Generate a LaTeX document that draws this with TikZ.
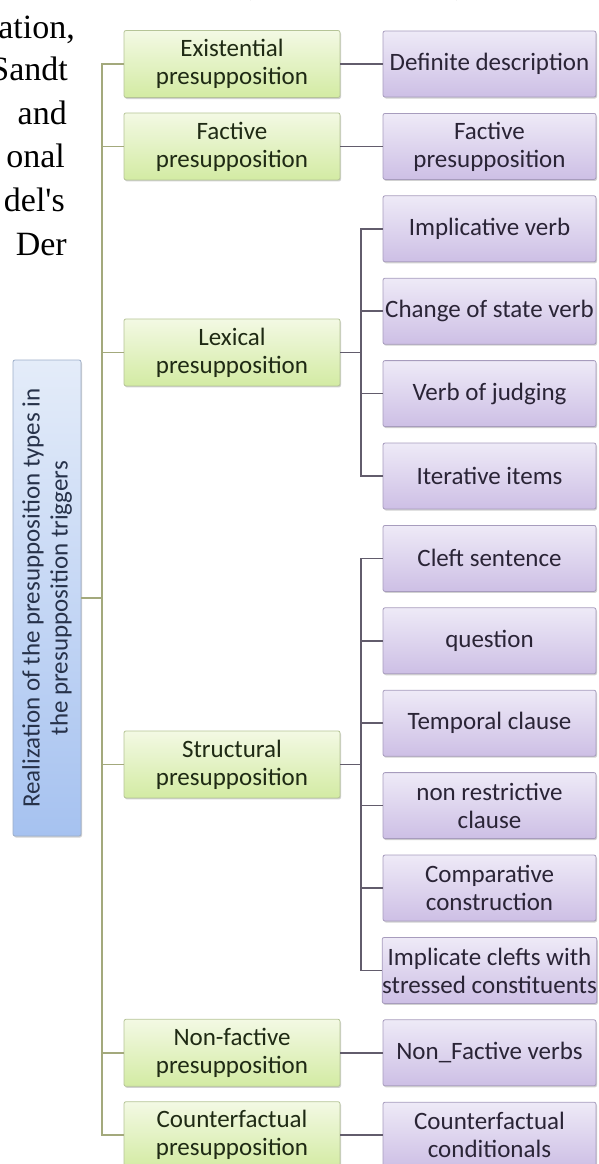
\documentclass[tikz,border=0pt]{standalone}
\usepackage{fontspec}
\setmainfont{Carlito}
\newfontfamily\serifpart{Liberation Serif}
\usetikzlibrary{shadows}
\definecolor{gtop}{HTML}{F3F9E4}
\definecolor{gbot}{HTML}{D3EBA3}
\definecolor{gline}{HTML}{B5C497}
\definecolor{ptop}{HTML}{EEEAF7}
\definecolor{pbot}{HTML}{CDBFE5}
\definecolor{pline}{HTML}{A79CBD}
\definecolor{btop}{HTML}{E4ECF9}
\definecolor{bbot}{HTML}{A6C2F0}
\definecolor{bline}{HTML}{9CADC8}
\definecolor{trunkc}{HTML}{A3A97C}
\definecolor{branchc}{HTML}{625C6C}
\definecolor{gtext}{HTML}{1F2A14}
\definecolor{ptext}{HTML}{2A2436}
\definecolor{btext}{HTML}{27324A}
\begin{document}
\begin{tikzpicture}[x=1pt,y=-1pt,
 every node/.style={font=\fontsize{25}{28}\selectfont, align=center, inner sep=0pt},
 boxbase/.style={rectangle, rounded corners=2pt, line width=0.8pt,
   drop shadow={shadow xshift=1pt,shadow yshift=-1.5pt,opacity=0.3,fill=black!60}},
 gbox/.style={boxbase, draw=gline, top color=gtop, bottom color=gbot, text=gtext,
   minimum width=216pt, minimum height=67pt},
 pbox/.style={boxbase, draw=pline, top color=ptop, bottom color=pbot, text=ptext,
   minimum width=213pt, minimum height=66pt},
 rbox/.style={boxbase, draw=bline, top color=btop, bottom color=bbot,
   minimum width=68pt, minimum height=476pt},
 trunkline/.style={draw=trunkc, line width=1.6pt},
 branchline/.style={draw=branchc, line width=1.6pt},
 serift/.style={font=\serifpart\fontsize{34}{40}\selectfont, text=black, anchor=base east}
]
\useasboundingbox (0,0) rectangle (598,1164);

% cropped page text
\node[serift] (t1) at (75,38) {ation,};
\node[serift] (t2) at (68,81) {Sandt};
\node[serift] (t3) at (67,124) {and};
\node[serift] (t4) at (65,167) {onal};
\node[serift] (t5) at (65,211) {del's};
\node[serift] (t6) at (67,255) {Der};
\node[serift, anchor=base] (lp) at (246,-6) {(};
\node[serift, anchor=base] (rp) at (461,-6) {)};

% root
\node[rbox] (root) at (47,598) {};
\node[rotate=90, text=btext] (roottext) at (root.center)
  {Realization of the presupposition types in\\the presupposition triggers};

% level 1
\node[gbox] (g0) at (232,64) {Existential\\presupposition};
\node[gbox] (g1) at (232,146.4) {Factive\\presupposition};
\node[gbox] (g2) at (232,352.4) {Lexical\\presupposition};
\node[gbox] (g3) at (232,764.4) {Structural\\presupposition};
\node[gbox] (g4) at (232,1052.8) {Non-factive\\presupposition};
\node[gbox] (g5) at (232,1135.2) {Counterfactual\\presupposition};

% level 2
\node[pbox] (p0) at (489.5,64) {Definite description};
\node[pbox] (p1) at (489.5,146.4) {Factive\\presupposition};
\node[pbox] (p2) at (489.5,228.8) {Implicative verb};
\node[pbox] (p3) at (489.5,311.2) {Change of state verb};
\node[pbox] (p4) at (489.5,393.6) {Verb of judging};
\node[pbox] (p5) at (489.5,476) {Iterative items};
\node[pbox] (p6) at (489.5,558.4) {Cleft sentence};
\node[pbox] (p7) at (489.5,640.8) {question};
\node[pbox] (p8) at (489.5,723.2) {Temporal clause};
\node[pbox] (p9) at (489.5,805.6) {non restrictive\\clause};
\node[pbox] (p10) at (489.5,888) {Comparative\\construction};
\node[pbox] (p11) at (489.5,970.4) {Implicate clefts with\\stressed constituents};
\node[pbox] (p12) at (489.5,1052.8) {Non\_Factive verbs};
\node[pbox] (p13) at (489.5,1135.2) {Counterfactual\\conditionals};

% connectors
\coordinate (trunk) at (102,598);
\draw[trunkline] (root.east) -- (trunk);
\foreach \g in {g0,g1,g2,g3,g4,g5} \draw[trunkline] (trunk) |- (\g.west);

\draw[branchline] (g0.east) -- (p0.west);
\draw[branchline] (g1.east) -- (p1.west);
\draw[branchline] (g4.east) -- (p12.west);
\draw[branchline] (g5.east) -- (p13.west);

\coordinate (lexbr) at (361,352.4);
\draw[branchline] (g2.east) -- (lexbr);
\foreach \p in {p2,p3,p4,p5} \draw[branchline] (lexbr) |- (\p.west);

\coordinate (strbr) at (361,764.4);
\draw[branchline] (g3.east) -- (strbr);
\foreach \p in {p6,p7,p8,p9,p10,p11} \draw[branchline] (strbr) |- (\p.west);
\end{tikzpicture}
\end{document}
